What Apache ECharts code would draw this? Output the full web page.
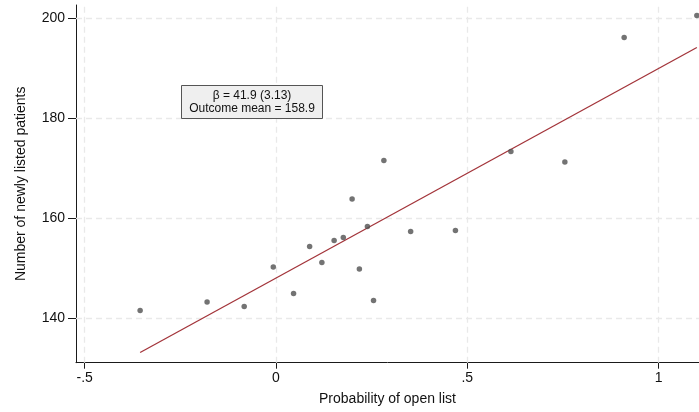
<!DOCTYPE html>
<html>
<head>
<meta charset="utf-8">
<title>Open list probability and newly listed patients</title>
<script src="https://cdn.jsdelivr.net/npm/echarts@6/dist/echarts.min.js"></script>
<style>
  html, body { margin: 0; padding: 0; background: #ffffff; }
  #chart { width: 699px; height: 412px; }
</style>
</head>
<body>
<div id="chart"></div>
<script>
// Binned scatter: probability of open list vs. number of newly listed patients
const binX = [-0.355, -0.180, -0.083, -0.007, 0.046, 0.088, 0.120, 0.152, 0.176, 0.199,
              0.218, 0.239, 0.255, 0.282, 0.352, 0.469, 0.614, 0.755, 0.910, 1.100];
const binY = [141.5, 143.2, 142.3, 150.2, 144.9, 154.3, 151.1, 155.5, 156.1, 163.8,
              149.8, 158.3, 143.5, 171.5, 157.3, 157.5, 173.3, 171.2, 196.1, 200.5];

// Fitted regression line end points (slope 41.9)
const fitX = [-0.355, 1.100];
const fitY = [133.1, 194.1];

// Axis ticks and labels
const xTicks = [-0.5, 0, 0.5, 1];
const xTickLabels = ['-.5', '0', '.5', '1'];
const yTicks = [140, 160, 180, 200];
const yTickLabels = ['140', '160', '180', '200'];

const noteLines = ['\u03b2 = 41.9 (3.13)', 'Outcome mean = 158.9'];

const font = 'Liberation Sans, Arial, sans-serif';
const gridColor = '#e9e9e9';
const axisColor = '#1a1a1a';

const points = binX.map((x, i) => [x, binY[i]]);
const fitLine = fitX.map((x, i) => [x, fitY[i]]);

const gridMarks = xTicks.map(v => ({ xAxis: v })).concat(yTicks.map(v => ({ yAxis: v })));

const chart = echarts.init(document.getElementById('chart'), null, { renderer: 'canvas' });

chart.setOption({
  animation: false,
  backgroundColor: '#ffffff',
  grid: { left: 76, right: 0, top: 5, bottom: 49.3, containLabel: false },
  xAxis: {
    type: 'value',
    min: -0.5226,
    max: 1.1056,
    name: 'Probability of open list',
    nameLocation: 'middle',
    nameGap: 29,
    nameTextStyle: { fontFamily: font, fontSize: 14, color: '#111' },
    axisLine: { show: true, onZero: false, lineStyle: { color: axisColor, width: 1 } },
    axisTick: { show: true, length: 6, customValues: xTicks, lineStyle: { color: axisColor } },
    axisLabel: {
      show: true, margin: 8, customValues: xTicks,
      fontFamily: font, fontSize: 14, color: '#111',
      formatter: v => xTickLabels[xTicks.findIndex(t => Math.abs(t - v) < 1e-6)]
    },
    splitLine: { show: false }
  },
  yAxis: {
    type: 'value',
    min: 131.06,
    max: 202.6,
    name: 'Number of newly listed patients',
    nameLocation: 'middle',
    nameGap: 48,
    nameTextStyle: { fontFamily: font, fontSize: 14, color: '#111' },
    axisLine: { show: true, onZero: false, lineStyle: { color: axisColor, width: 1 } },
    axisTick: { show: true, length: 8, customValues: yTicks, lineStyle: { color: axisColor } },
    axisLabel: {
      show: true, margin: 11, customValues: yTicks,
      fontFamily: font, fontSize: 14, color: '#111',
      formatter: v => yTickLabels[yTicks.findIndex(t => Math.abs(t - v) < 1e-6)]
    },
    splitLine: { show: false }
  },
  series: [
    {
      name: 'grid',
      type: 'scatter',
      data: [],
      silent: true,
      z: 1,
      markLine: {
        silent: true,
        z: 1,
        symbol: ['none', 'none'],
        label: { show: false },
        lineStyle: { color: gridColor, type: [6, 4], width: 1.3 },
        data: gridMarks
      }
    },
    {
      name: 'fit',
      type: 'line',
      data: fitLine,
      showSymbol: false,
      symbol: 'none',
      lineStyle: { color: '#a3343a', width: 1.3 },
      z: 3
    },
    {
      name: 'bins',
      type: 'scatter',
      data: points,
      symbol: 'circle',
      symbolSize: 5.5,
      itemStyle: { color: '#505050' },
      z: 4
    }
  ],
  graphic: [
    {
      type: 'group',
      left: 181,
      top: 85,
      z: 100,
      children: [
        {
          type: 'rect',
          shape: { x: 0, y: 0, width: 141, height: 33 },
          style: { fill: '#efefef', stroke: '#555555', lineWidth: 1 },
          z: 100
        },
        {
          type: 'text',
          x: 70.5, y: 4,
          z: 101,
          style: {
            text: noteLines.join('\n'),
            fontFamily: font, fontSize: 12, lineHeight: 12.5,
            fill: '#111', align: 'center', verticalAlign: 'top'
          }
        }
      ]
    }
  ]
});
</script>
</body>
</html>
